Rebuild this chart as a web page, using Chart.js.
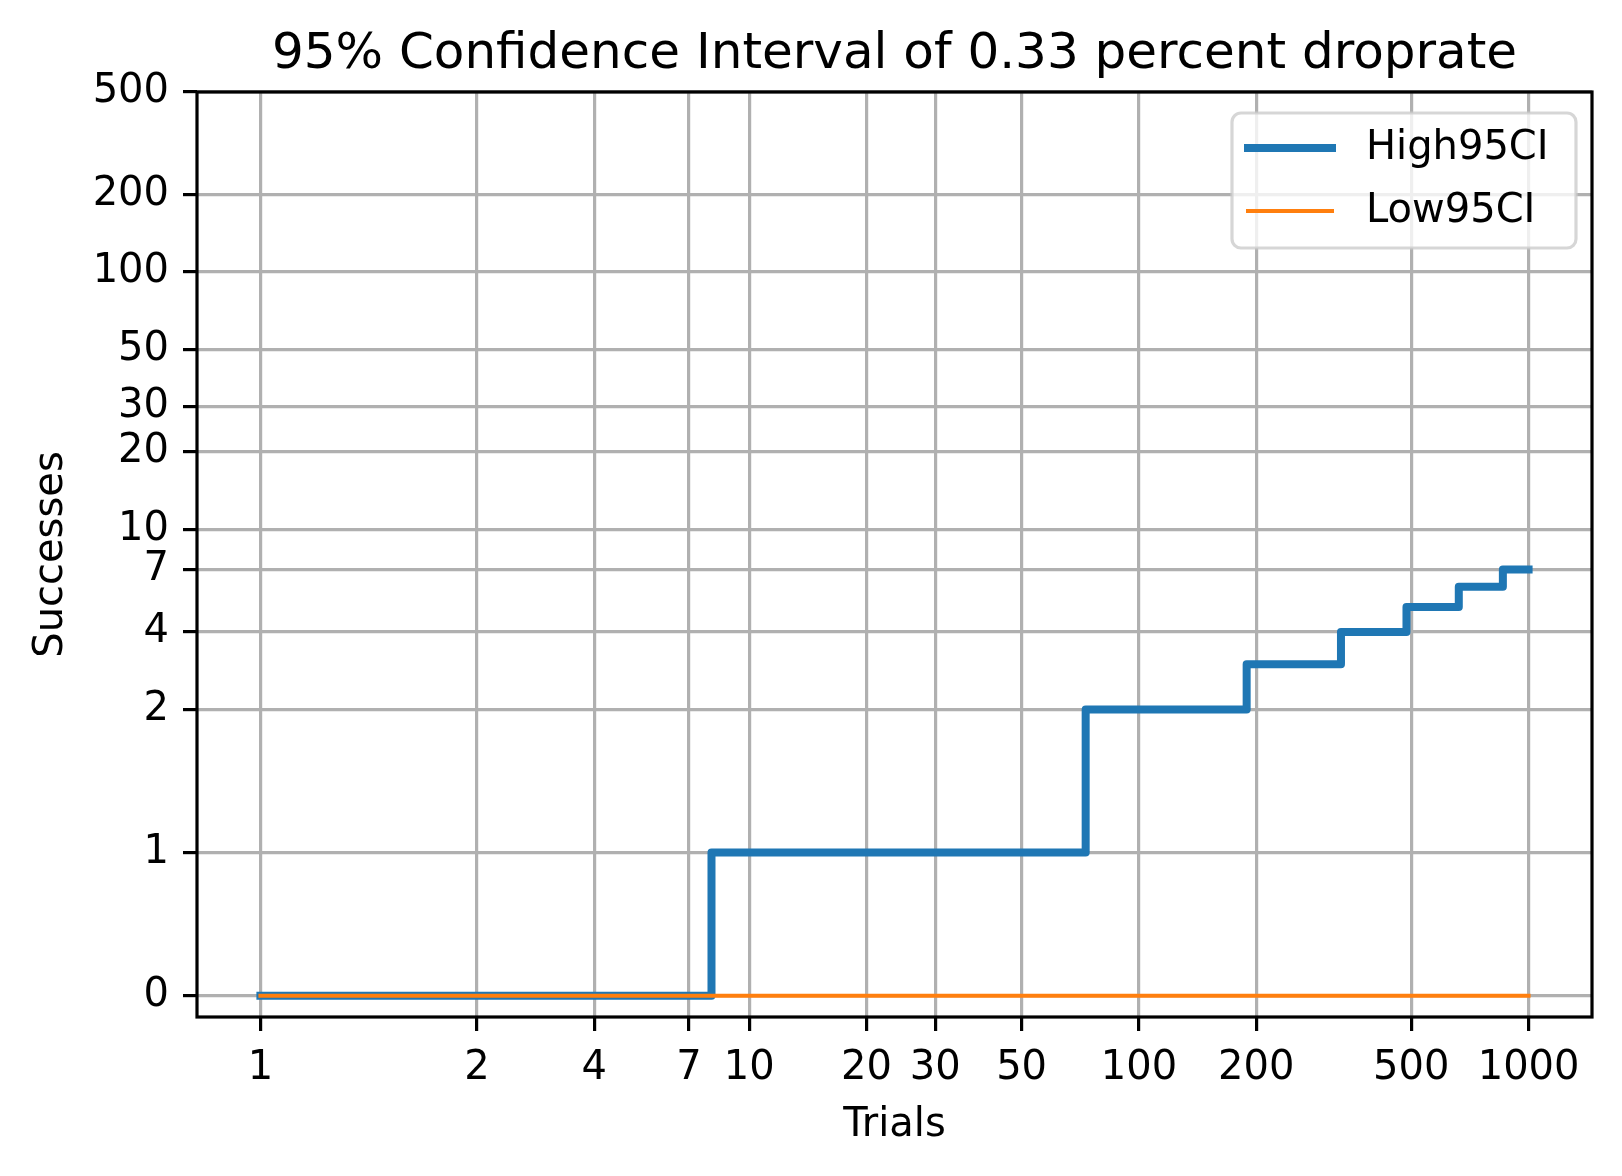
<!DOCTYPE html>
<html>
<head>
<meta charset="utf-8">
<script src="https://cdn.jsdelivr.net/npm/chart.js@4.4.1/dist/chart.umd.min.js"></script>
<style>
  body { margin: 0; background: #fff; }
  canvas { display: block; }
</style>
</head>
<body>
<canvas id="chart" width="1622" height="1176"></canvas>
<script>
// trials where the upper bound steps up, and the bounds from there on
const trials = [1, 8, 73, 189, 330, 486, 662, 859, 1000];
const high95 = [0, 1, 2, 3, 4, 5, 6, 7, 7];
const low95 = [0, 0, 0, 0, 0, 0, 0, 0, 0];

const xTicks = [1, 2, 4, 7, 10, 20, 30, 50, 100, 200, 500, 1000];
const yTicks = [0, 1, 2, 4, 7, 10, 20, 30, 50, 100, 200, 500];

// matplotlib style symlog, linthresh 2, linscale 1
const LINTHRESH = 2;
const LINSCALE = 1 / (1 - 1 / 10);

function symlog(v) {
  const a = Math.abs(v);
  const t = a <= LINTHRESH ? a * LINSCALE : LINTHRESH * (LINSCALE + Math.log10(a / LINTHRESH));
  return Math.sign(v) * t;
}

function symexp(t) {
  const a = Math.abs(t);
  const lim = LINTHRESH * LINSCALE;
  const v = a <= lim ? a / LINSCALE : LINTHRESH * Math.pow(10, a / LINTHRESH - LINSCALE);
  return Math.sign(t) * v;
}

class SymlogScale extends Chart.Scale {
  determineDataLimits() {
    let lo = Infinity, hi = -Infinity;
    for (const meta of this.getMatchingVisibleMetas()) {
      const r = meta.controller.getMinMax(this, false);
      lo = Math.min(lo, r.min);
      hi = Math.max(hi, r.max);
    }
    const a = symlog(lo), b = symlog(hi);
    const pad = (b - a) * 0.05;
    this.min = this.options.min ?? symexp(a - pad);
    this.max = this.options.max ?? symexp(b + pad);
  }
  buildTicks() {
    return this.options.tickValues.map(value => ({ value }));
  }
  configure() {
    super.configure();
    this._start = symlog(this.min);
    this._range = symlog(this.max) - this._start;
  }
  getLabelForValue(value) {
    return String(value);
  }
  getPixelForValue(value) {
    return this.getPixelForDecimal((symlog(value) - this._start) / this._range);
  }
  getValueForPixel(pixel) {
    return symexp(this._start + this.getDecimalForPixel(pixel) * this._range);
  }
}
SymlogScale.id = 'symlog';
SymlogScale.defaults = {};
Chart.register(SymlogScale);

Chart.defaults.font.family = '"DejaVu Sans", sans-serif';
Chart.defaults.font.size = 40;
Chart.defaults.color = '#000';

const frame = {
  id: 'frame',
  afterDraw(chart) {
    const { ctx, chartArea: ca } = chart;
    ctx.save();
    ctx.lineWidth = 3.2;
    ctx.strokeStyle = '#000';
    ctx.strokeRect(ca.left, ca.top, ca.right - ca.left, ca.bottom - ca.top);

    // legend, upper right
    const w = 344, h = 135;
    const x = ca.right - 16 - w, y = ca.top + 21;
    ctx.beginPath();
    ctx.roundRect(x, y, w, h, 9);
    ctx.fillStyle = 'rgba(255,255,255,0.8)';
    ctx.fill();
    ctx.lineWidth = 3.2;
    ctx.strokeStyle = 'rgba(204,204,204,0.8)';
    ctx.stroke();
    ctx.font = '40px "DejaVu Sans"';
    ctx.textBaseline = 'middle';
    chart.data.datasets.forEach((ds, i) => {
      const cy = y + 35 + i * 63;
      ctx.beginPath();
      ctx.moveTo(x + 16, cy);
      ctx.lineTo(x + 100, cy);
      ctx.lineCap = 'square';
      ctx.lineWidth = ds.borderWidth;
      ctx.strokeStyle = ds.borderColor;
      ctx.stroke();
      ctx.fillStyle = '#000';
      ctx.fillText(ds.label, x + 134, cy + 1);
    });
    ctx.restore();
  }
};

const gridStyle = {
  color: '#b0b0b0',
  lineWidth: 3.2,
  tickColor: '#000',
  tickWidth: 3.2,
  tickLength: 14
};

new Chart(document.getElementById('chart'), {
  type: 'line',
  data: {
    datasets: [
      {
        label: 'High95CI',
        data: trials.map((t, i) => ({ x: t, y: high95[i] })),
        borderColor: '#1f77b4',
        borderWidth: 8,
        stepped: 'before',
        borderCapStyle: 'square',
        borderJoinStyle: 'round',
        pointRadius: 0,
        fill: false,
        order: 1
      },
      {
        label: 'Low95CI',
        data: trials.map((t, i) => ({ x: t, y: low95[i] })),
        borderColor: '#ff7f0e',
        borderWidth: 4,
        stepped: 'before',
        borderCapStyle: 'square',
        pointRadius: 0,
        fill: false,
        order: 0
      }
    ]
  },
  options: {
    responsive: false,
    devicePixelRatio: 1,
    animation: false,
    layout: { padding: { left: 0, right: 30, top: 0, bottom: 0 } },
    plugins: {
      legend: { display: false },
      tooltip: { enabled: false },
      title: {
        display: true,
        fullSize: false,
        text: '95% Confidence Interval of 0.33 percent droprate',
        font: { size: 50, weight: 'normal' },
        color: '#000',
        padding: { top: 25, bottom: 7 }
      }
    },
    scales: {
      x: {
        type: 'symlog',
        position: 'bottom',
        tickValues: xTicks,
        grid: gridStyle,
        border: { display: false },
        ticks: { padding: 14, autoSkip: false, maxRotation: 0 },
        title: { display: true, text: 'Trials', padding: { top: 0, bottom: 26 } },
        afterFit(scale) { scale.height = 159; }
      },
      y: {
        type: 'symlog',
        position: 'left',
        max: 500,
        tickValues: yTicks,
        grid: gridStyle,
        border: { display: false },
        ticks: { padding: 14, autoSkip: false },
        title: { display: true, text: 'Successes', padding: { top: 28, bottom: 0 } },
        afterFit(scale) { scale.width = 197; }
      }
    }
  },
  plugins: [frame]
});
</script>
</body>
</html>
